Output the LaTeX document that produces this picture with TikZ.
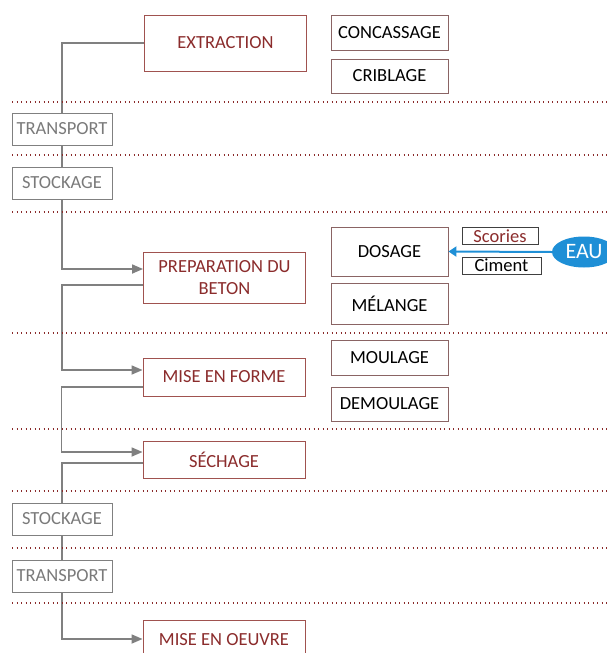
\documentclass[tikz,border=0pt]{standalone}
\usepackage{fontspec}
\setmainfont{Carlito}
\usepackage{xcolor}
\usepackage{tikz}
\usetikzlibrary{arrows.meta,shapes.geometric,backgrounds}
\definecolor{wine}{HTML}{8B2C2C}
\definecolor{winebox}{HTML}{A0524F}
\definecolor{subline}{HTML}{8A6464}
\definecolor{greyline}{HTML}{808080}
\definecolor{greytext}{HTML}{7A7A7A}
\definecolor{waterblue}{HTML}{1E8FD6}
\tikzset{
    every picture/.style={line join=miter},
    stagebox/.style={draw=winebox,fill=white,line width=0.9pt,text=wine,
      minimum width=162pt,inner sep=1pt,align=center},
    subbox/.style={draw=subline,fill=white,line width=0.9pt,text=black,
      minimum width=117pt,inner sep=1pt,align=center},
    logbox/.style={draw=greyline,fill=white,line width=1pt,text=greytext,
      minimum width=100pt,minimum height=32pt,inner sep=1pt},
    tagbox/.style={draw=black!75,fill=white,line width=0.9pt,
      minimum height=17pt,inner sep=1pt},
    waterdrop/.style={ellipse,fill=waterblue,text=white,
      font=\fontsize{22}{24}\selectfont,
      minimum width=64pt,minimum height=31pt,inner sep=0pt},
    link/.style={draw=greyline,line width=1.7pt},
    feed/.style={link,-{Triangle[length=11pt,width=9pt]}},
    waterflow/.style={draw=waterblue,line width=2pt,
      -{Triangle[length=8pt,width=10pt]}},
    sepline/.style={draw=wine,line width=1.3pt,dash pattern=on 1.3pt off 3.2pt}
}
\begin{document}
\begin{tikzpicture}[x=1pt,y=-1pt,font=\fontsize{18.5}{21}\selectfont]
    \useasboundingbox (0,0) rectangle (607,653);
    % separators
    \foreach \y in {102,155,212,333,429,491,548,603}
        \draw[sepline] (12,\y) -- (607,\y);
    % main stages
    \node[stagebox,minimum height=56pt] (extraction) at (225.5,43) {EXTRACTION};
    \node[stagebox,minimum height=51pt] (preparation) at (224.5,277.5) {PREPARATION DU\\[1.5pt]BETON};
    \node[stagebox,minimum height=38pt] (formage) at (224,377) {MISE EN FORME};
    \node[stagebox,minimum height=37pt] (sechage) at (224,459.5) {SÉCHAGE};
    \node[stagebox,minimum height=40pt] (oeuvre) at (224,640) {MISE EN OEUVRE};
    % sub steps
    \node[subbox,minimum height=35pt] (concassage) at (389.5,32.5) {CONCASSAGE};
    \node[subbox,minimum height=34pt] (criblage) at (389.5,76) {CRIBLAGE};
    \node[subbox,minimum height=49pt] (dosage) at (389.5,251.5) {DOSAGE};
    \node[subbox,minimum height=41pt] (melange) at (389.5,303.5) {MÉLANGE};
    \node[subbox,minimum height=35pt] (moulage) at (389.5,357.5) {MOULAGE};
    \node[subbox,minimum height=34pt] (demoulage) at (389.5,404) {DEMOULAGE};
    % inputs
    \node[tagbox,minimum width=76pt,text=wine] (scories) at (500,236) {Scories};
    \node[tagbox,minimum width=79pt] (ciment) at (501.5,265.5) {Ciment};
    \node[waterdrop] (eau) at (584,252) {EAU};
    % logistics
    \node[logbox] (transportA) at (62,129) {TRANSPORT};
    \node[logbox] (stockageA) at (62,183) {STOCKAGE};
    \node[logbox] (stockageB) at (62,519) {STOCKAGE};
    \node[logbox] (transportB) at (62,576) {TRANSPORT};
    \begin{scope}[on background layer]
        \draw[link] (extraction.west) -| (transportA.north);
        \draw[link] (transportA) -- (stockageA);
        \draw[feed] (stockageA.south) |- ([yshift=8.5pt]preparation.west);
        \draw[feed] ([yshift=-7.5pt]preparation.west) -- ++(-81,0) |- ([yshift=7pt]formage.west);
        \draw[feed] ([yshift=-10pt]formage.west) -- ++(-81,0) |- ([yshift=7.5pt]sechage.west);
        \draw[link] ([yshift=-3.5pt]sechage.west) -| (stockageB.north);
        \draw[link] (stockageB) -- (transportB);
        \draw[feed] (transportB.south) |- ([yshift=1pt]oeuvre.west);
    \end{scope}
    \draw[waterflow] (eau.west) -- (dosage.east);
\end{tikzpicture}
\end{document}
